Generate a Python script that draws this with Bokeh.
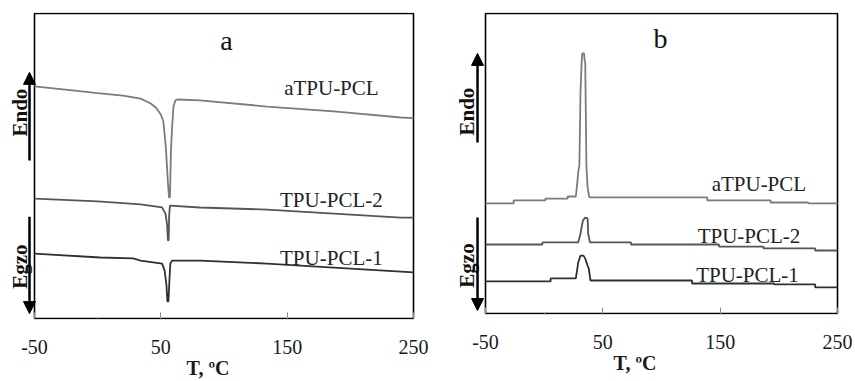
from bokeh.plotting import figure
from bokeh.layouts import row
from bokeh.models import FixedTicker, Arrow, NormalHead, ColumnDataSource
from bokeh.core.properties import value
from bokeh.embed import file_html
from bokeh.resources import INLINE

# ---------------- data ----------------
# Panel a: cooling-type traces (exothermic dips)
T_A_ATPU = [-50, -20, 0, 20, 34, 42, 46, 50, 52, 54, 55.5, 56.5, 57.2, 58, 59, 60, 61.5, 63, 81, 134, 187, 240, 250]
Y_A_ATPU = [7.61, 7.48, 7.39, 7.31, 7.21, 7.05, 6.92, 6.69, 6.46, 5.61, 4.52, 3.97, 3.97, 5.51, 6.33, 6.95, 7.15, 7.18, 7.15, 6.95, 6.79, 6.59, 6.57]

T_A_TPU2 = [-50, 0, 34, 51, 53.7, 55, 55.6, 56.2, 56.6, 57.2, 81, 134, 187, 240, 250]
Y_A_TPU2 = [3.93, 3.84, 3.74, 3.64, 3.44, 3.05, 2.56, 2.56, 3.38, 3.70, 3.64, 3.57, 3.44, 3.31, 3.31]

T_A_TPU1 = [-50, 2, 28, 34, 51, 53, 54.5, 55.2, 56, 56.8, 57.5, 59, 81, 134, 187, 240, 250]
Y_A_TPU1 = [2.13, 2.00, 1.97, 1.90, 1.80, 1.57, 1.08, 0.56, 0.56, 1.25, 1.80, 1.90, 1.90, 1.80, 1.67, 1.54, 1.51]

# Panel b: heating-type traces (endothermic peaks)
T_B_ATPU = [-50, -26, -26, 1, 1, 20, 20, 27, 28, 29, 30, 31, 32, 32.5, 34, 34.5, 35, 36, 37, 38.5, 139, 139, 193, 193, 225, 225, 250]
Y_B_ATPU = [3.67, 3.67, 3.77, 3.77, 3.83, 3.83, 3.90, 3.90, 4.27, 4.70, 4.93, 7.43, 8.43, 8.67, 8.67, 8.43, 8.37, 4.93, 4.20, 3.87, 3.87, 3.77, 3.77, 3.70, 3.70, 3.67, 3.67]

T_B_TPU2 = [-50, -1.5, -1.5, 29, 31, 33, 35, 37, 37.5, 39, 74, 74, 149, 149, 187, 187, 231, 231, 250]
Y_B_TPU2 = [2.30, 2.30, 2.37, 2.37, 2.67, 3.10, 3.20, 3.17, 2.67, 2.37, 2.37, 2.30, 2.30, 2.23, 2.23, 2.17, 2.17, 2.10, 2.10]

T_B_TPU1 = [-50, 5.5, 5.5, 27, 28, 29, 31, 33.5, 35, 37, 38, 39.5, 126, 126, 196, 196, 231, 231, 250]
Y_B_TPU1 = [1.07, 1.07, 1.17, 1.17, 1.43, 1.70, 1.93, 1.93, 1.83, 1.60, 1.50, 1.10, 1.10, 1.00, 1.00, 0.97, 0.97, 0.87, 0.87]

SERIES_NAMES = ["aTPU-PCL", "TPU-PCL-2", "TPU-PCL-1"]
PANEL_NAMES = ["a", "b"]
X_TICKS = [-50, 50, 150, 250]
X_TICK_LABELS = ["-50", "50", "150", "250"]
X_MINOR = [0]
X_LIMITS = (-50, 250)
Y_LIMITS = (0, 10)
X_LABEL = "T, ºC"

# ---------------- styling ----------------
FONT = value("Liberation Serif")
COLORS = ["#7c7c7c", "#555555", "#303030"]


def make_panel(traces, panel_name, frame_w, frame_h, px_per_deg, px_per_unit,
               left_px, border_r, border_b, label_pos, panel_label_pos, arrow_x,
               arrow_endo, arrow_egzo, text_x, text_endo_y, text_egzo_y):
    pad_x = 2.0 / px_per_deg
    pad_y = 1.0 / px_per_unit
    x_start = X_LIMITS[0] - left_px / px_per_deg
    p = figure(width=frame_w + border_r, height=frame_h + 12 + border_b,
               frame_width=frame_w, frame_height=frame_h,
               x_range=(x_start, X_LIMITS[1] + pad_x),
               y_range=(Y_LIMITS[0] - pad_y, Y_LIMITS[1] + pad_y),
               toolbar_location=None, output_backend="svg",
               y_axis_location=None, min_border_left=0, min_border_right=border_r,
               min_border_top=12, min_border_bottom=border_b)
    p.outline_line_color = None
    p.grid.visible = False
    p.background_fill_color = "white"
    p.border_fill_color = "white"

    ax = p.xaxis[0]
    ax.ticker = FixedTicker(ticks=X_TICKS, minor_ticks=X_MINOR)
    ax.major_label_overrides = {t: s for t, s in zip(X_TICKS, X_TICK_LABELS)}
    ax.axis_line_color = None
    ax.major_tick_in = 7
    ax.major_tick_out = 0
    ax.minor_tick_in = 2
    ax.minor_tick_out = 0
    ax.major_tick_line_color = "#8a8a8a"
    ax.minor_tick_line_color = "#8a8a8a"
    ax.major_label_text_font = "Liberation Serif"
    ax.major_label_text_font_size = "20px"
    ax.major_label_text_color = "#1a1a1a"
    ax.major_label_standoff = 20
    ax.axis_label = X_LABEL
    ax.axis_label_text_font = "Liberation Serif"
    ax.axis_label_text_font_size = "20px"
    ax.axis_label_text_font_style = "bold"
    ax.axis_label_text_color = "#1a1a1a"
    ax.axis_label_standoff = 0

    # frame box spanning the axis limits
    p.quad(left=[X_LIMITS[0]], right=[X_LIMITS[1]], bottom=[Y_LIMITS[0]], top=[Y_LIMITS[1]],
           fill_color=None, line_color="black", line_width=1.6)

    for (tx, ty), c in zip(traces, COLORS):
        p.line(tx, ty, line_color=c, line_width=1.8)

    src = ColumnDataSource(dict(x=label_pos[0], y=label_pos[1], t=SERIES_NAMES))
    p.text(x="x", y="y", text="t", source=src, text_font=FONT, text_font_size="21px",
           text_color="#222222", text_align="center", text_baseline="middle")

    p.text(x=[panel_label_pos[0]], y=[panel_label_pos[1]], text=[panel_name], text_font=FONT,
           text_font_size="28px", text_color="#111111", text_align="center",
           text_baseline="middle")

    for (y0, y1) in (arrow_endo, arrow_egzo):
        p.add_layout(Arrow(end=NormalHead(size=12, fill_color="black", line_color="black"),
                           x_start=arrow_x, y_start=y0, x_end=arrow_x, y_end=y1,
                           line_width=2.5, line_color="black"))

    p.text(x=[text_x, text_x], y=[text_endo_y, text_egzo_y], text=["Endo", "Egzo"],
           text_font=FONT, text_font_size="21px", text_font_style="bold",
           text_color="#111111", angle=1.5708, text_align="center", text_baseline="middle")
    return p


pa = make_panel(
    traces=[(T_A_ATPU, Y_A_ATPU), (T_A_TPU2, Y_A_TPU2), (T_A_TPU1, Y_A_TPU1)],
    panel_name=PANEL_NAMES[0], frame_w=415, frame_h=307, px_per_deg=379 / 300, px_per_unit=30.5,
    left_px=34, border_r=15, border_b=62,
    label_pos=([185, 185, 185], [7.57, 3.87, 1.97]),
    panel_label_pos=(102, 9.11),
    arrow_x=-53.96, arrow_endo=(5.18, 8.07), arrow_egzo=(3.34, 0.16),
    text_x=-61.1, text_endo_y=6.75, text_egzo_y=1.70)

pb = make_panel(
    traces=[(T_B_ATPU, Y_B_ATPU), (T_B_TPU2, Y_B_TPU2), (T_B_TPU1, Y_B_TPU1)],
    panel_name=PANEL_NAMES[1], frame_w=409, frame_h=302, px_per_deg=352 / 300, px_per_unit=30.0,
    left_px=55, border_r=16, border_b=67,
    label_pos=([183, 174.6, 173.3], [4.33, 2.57, 1.27]),
    panel_label_pos=(99.2, 9.17),
    arrow_x=-56.8, arrow_endo=(5.70, 8.67), arrow_egzo=(3.20, 0.10),
    text_x=-65.8, text_endo_y=6.73, text_egzo_y=1.60)

layout = row(pa, pb)
open("out.html", "w").write(file_html(layout, INLINE))
